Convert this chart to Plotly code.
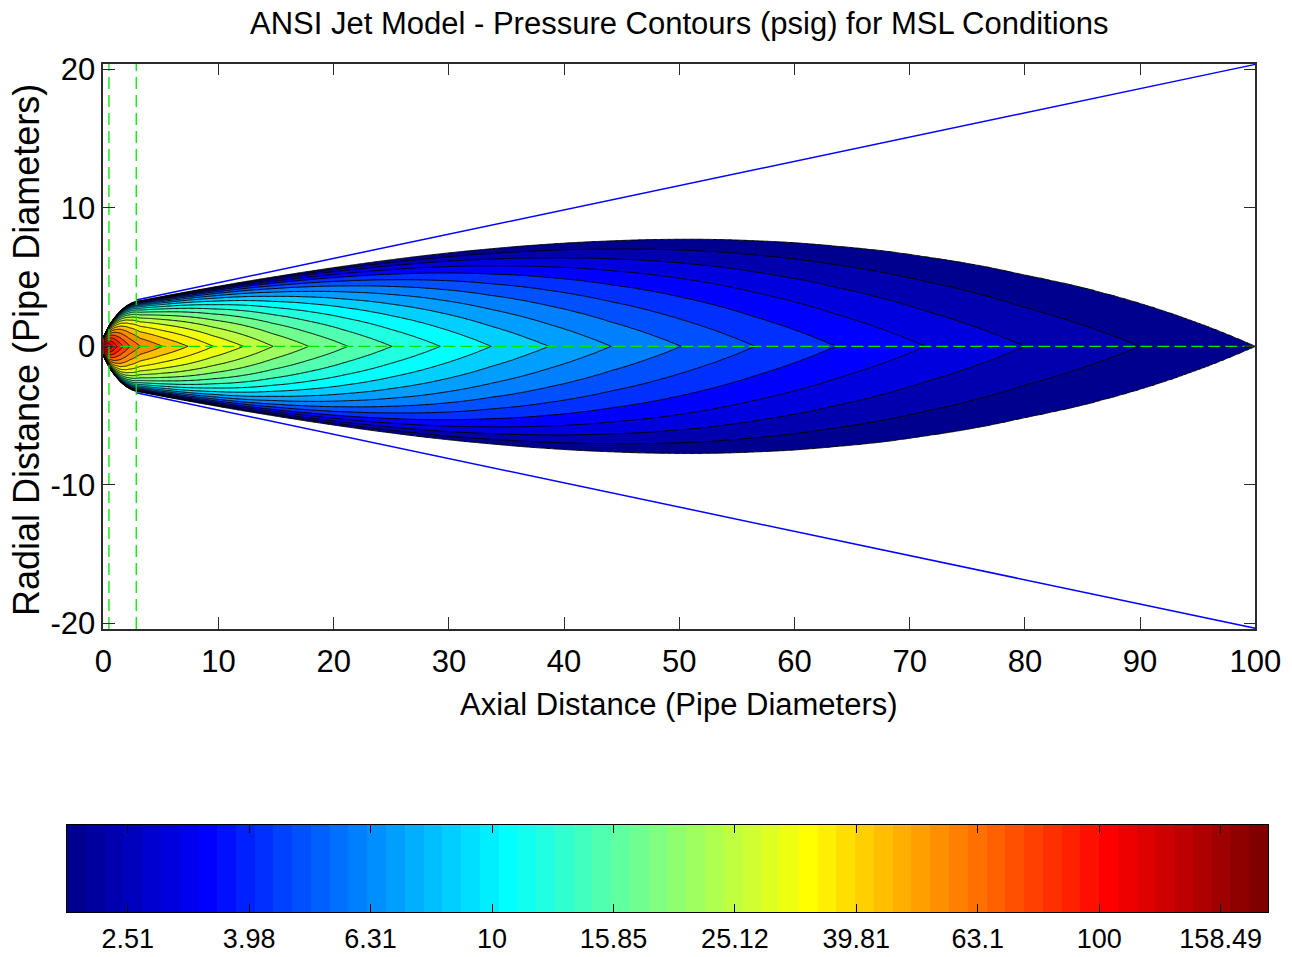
import numpy as np
import plotly.graph_objects as go

# ---------------- data ----------------
# contour levels, log10(psig)
contour_levels_log = [0.300, 0.379, 0.458, 0.537, 0.616, 0.696, 0.775, 0.854,
                      0.933, 1.012, 1.091, 1.170, 1.249, 1.328, 1.407, 1.487,
                      1.566, 1.645, 1.724, 1.803, 1.882, 1.961, 2.040, 2.119, 2.198]
# axial distance (pipe diameters) where each level crosses the jet axis
apex_axial = [100.0, 90.0, 80.0, 71.4, 63.6, 56.5, 50.1, 44.0,
              38.6, 33.6, 29.2, 25.0, 21.2, 17.8, 14.7, 12.1,
              9.5, 7.3, 5.1, 3.2, 2.3, 1.7, 1.2, 0.8, 0.4]
peak_log_psig = 2.278          # at the break plane (x = 0)
color_min_log = 0.300
color_max_log = 2.278

# jet boundary near the break (x < 2.86) and the 10-degree cone beyond it
nozzle_x = [0.0, 0.3, 0.6, 1.0, 1.5, 2.0, 2.5, 2.86]
nozzle_r = [0.70, 1.20, 1.68, 2.15, 2.65, 3.00, 3.25, 3.35]
cone_x = [2.86, 100.0]
cone_r = [3.35, 20.35]
zone_lines_x = [0.49, 2.86]

x_ticks = [0, 10, 20, 30, 40, 50, 60, 70, 80, 90, 100]
y_ticks = [-20, -10, 0, 10, 20]
y_tick_labels = ["-20", "-10", "0", "10", "20"]
cbar_ticks_log = [0.4, 0.6, 0.8, 1.0, 1.2, 1.4, 1.6, 1.8, 2.0, 2.2]
cbar_tick_labels = ["2.51", "3.98", "6.31", "10", "15.85", "25.12",
                    "39.81", "63.1", "100", "158.49"]

# ---------------- MATLAB jet(64) colormap ----------------
def jet(n=64):
    m = int(np.ceil(n / 4))
    u = np.concatenate([np.arange(1, m + 1) / m, np.ones(m - 1), np.arange(m, 0, -1) / m])
    g = int(np.ceil(n / 8)) - (1 if n % 4 == 1 else 0) + np.arange(1, len(u) + 1)
    r = g + m
    b = g - m
    J = np.zeros((n, 3))
    rr = r[r <= n]; J[rr - 1, 0] = u[:len(rr)]
    gg = g[g <= n]; J[gg - 1, 1] = u[:len(gg)]
    bb = b[b >= 1]; J[bb - 1, 2] = u[len(u) - len(bb):]
    return J

JET = jet(64)
def rgb(c):
    return "rgb(%d,%d,%d)" % tuple(int(round(v * 255)) for v in c)

# ---------------- pressure field ----------------
xg = np.concatenate([np.arange(0, 5, 0.02), np.arange(5, 100.0001, 0.2)])
yg = np.arange(-8.6, 8.6001, 0.04)
R = np.where(xg < cone_x[0], np.interp(xg, nozzle_x, nozzle_r), np.interp(xg, cone_x, cone_r))
ax_x = [0.0] + apex_axial[::-1]
ax_l = [peak_log_psig] + contour_levels_log[::-1]
logpc = np.interp(xg, ax_x, ax_l)
frac = 1.0 - np.abs(yg)[:, None] / R[None, :]
P = (10 ** logpc)[None, :] * frac
Z = np.log10(np.clip(P, 0.1, None))
Z = np.round(Z, 3)

nc = len(contour_levels_log)
step = contour_levels_log[1] - contour_levels_log[0]
cscale = [[0.0, "white"]]
for k, lv in enumerate(contour_levels_log):
    idx = int((lv - color_min_log) / (color_max_log - color_min_log) * 64 + 1e-9)
    idx = min(max(idx, 0), 63)
    cscale.append([(k + 1) / nc, rgb(JET[idx])])
cscale[-1][0] = 1.0

fig = go.Figure()
fig.add_trace(go.Contour(
    x=xg, y=yg, z=Z, autocontour=False,
    contours=dict(start=contour_levels_log[0], end=contour_levels_log[-1], size=step,
                  coloring="fill", showlines=True),
    line=dict(color="black", width=1, smoothing=0.6),
    colorscale=cscale, showscale=False, hoverinfo="skip",
    xaxis="x", yaxis="y"))

# cone lines
for s in (1, -1):
    fig.add_trace(go.Scatter(x=cone_x, y=[s * v for v in cone_r], mode="lines",
                             line=dict(color="rgb(0,0,255)", width=1.5),
                             hoverinfo="skip", xaxis="x", yaxis="y"))
# green dashed lines
fig.add_trace(go.Scatter(x=[0, 100], y=[0, 0], mode="lines",
                         line=dict(color="rgb(0,230,0)", width=1.3, dash="12px,5px"),
                         hoverinfo="skip", xaxis="x", yaxis="y"))
for zx in zone_lines_x:
    fig.add_trace(go.Scatter(x=[zx, zx], y=[-20.4, 20.4], mode="lines",
                             line=dict(color="rgb(0,230,0)", width=1.3, dash="12px,6px"),
                             hoverinfo="skip", xaxis="x", yaxis="y"))

# colorbar as heatmap
cb_n = 64
cb_dx = (color_max_log - color_min_log) / cb_n
fig.add_trace(go.Heatmap(
    z=[list(range(cb_n))], x0=color_min_log + cb_dx / 2, dx=cb_dx, y0=0.5, dy=1,
    colorscale=[[i / (cb_n - 1), rgb(JET[i])] for i in range(cb_n)],
    zmin=0, zmax=cb_n - 1, showscale=False, hoverinfo="skip",
    xaxis="x2", yaxis="y2"))

W, H = 1292, 957
FONT = "Liberation Sans, Arial, sans-serif"
frame = "#2b2b2b"

fig.update_layout(
    width=W, height=H, margin=dict(l=0, r=0, t=0, b=0, autoexpand=False),
    paper_bgcolor="white", plot_bgcolor="white", showlegend=False,
    font=dict(family=FONT, size=31, color="black"),
    xaxis=dict(domain=[103.3 / W, 1255.3 / W], range=[0, 100], anchor="y",
               automargin=False,
               tickvals=x_ticks, ticks="inside", ticklen=12, tickwidth=1.2,
               tickcolor=frame, mirror="ticks", showline=True, linecolor=frame,
               linewidth=1.5, showgrid=False, zeroline=False,
               tickfont=dict(size=31, family=FONT), ticklabelstandoff=4),
    yaxis=dict(domain=[1 - 629 / H, 1 - 63.7 / H], range=[-20.4, 20.4], anchor="x",
               automargin=False,
               tickvals=y_ticks, ticktext=y_tick_labels, ticks="inside", ticklen=12,
               tickwidth=1.2,
               tickcolor=frame, mirror="ticks", showline=True, linecolor=frame,
               linewidth=1.5, showgrid=False, zeroline=False,
               tickfont=dict(size=31, family=FONT), ticklabelstandoff=0),
    xaxis2=dict(domain=[67 / W, 1268 / W], range=[color_min_log, color_max_log],
                anchor="y2", automargin=False,
                tickvals=cbar_ticks_log, ticktext=cbar_tick_labels,
                ticks="inside", ticklen=8, tickcolor="black", mirror="ticks",
                showline=True, linecolor="black", linewidth=1.2, showgrid=False,
                zeroline=False, tickfont=dict(size=27, family=FONT),
                ticklabelstandoff=2),
    yaxis2=dict(domain=[1 - 912 / H, 1 - 825 / H], range=[0, 1], anchor="x2",
                automargin=False,
                showticklabels=False, ticks="", showline=True, mirror=True,
                linecolor="black", linewidth=1.2, showgrid=False, zeroline=False),
    annotations=[
        dict(text="ANSI Jet Model - Pressure Contours (psig) for MSL Conditions",
             x=679 / W, y=1 - 23 / H, xref="paper", yref="paper",
             xanchor="center", yanchor="middle", showarrow=False,
             font=dict(size=31, family=FONT)),
        dict(text="Axial Distance (Pipe Diameters)",
             x=679 / W, y=1 - 704 / H, xref="paper", yref="paper",
             xanchor="center", yanchor="middle", showarrow=False,
             font=dict(size=31, family=FONT)),
        dict(text="Radial Distance (Pipe Diameters)", textangle=-90,
             x=26 / W, y=1 - 350 / H, xref="paper", yref="paper",
             xanchor="center", yanchor="middle", showarrow=False,
             font=dict(size=36, family=FONT)),
    ],
)

fig.write_html("out.html")
